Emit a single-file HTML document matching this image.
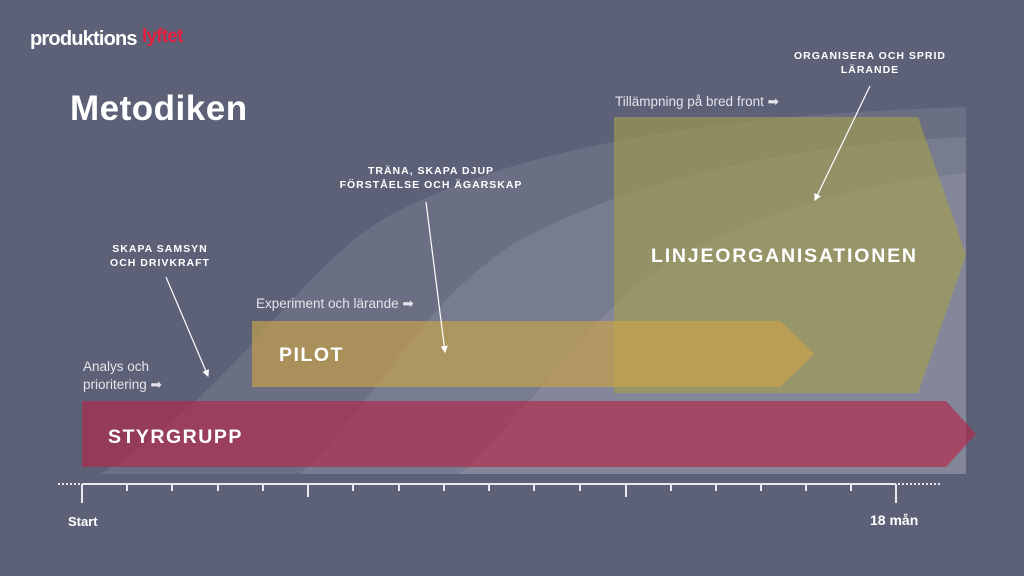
<!DOCTYPE html>
<html><head><meta charset="utf-8"><style>
body{margin:0;width:1024px;height:576px;background:#5c6178;overflow:hidden;font-family:"Liberation Sans",sans-serif;}
</style></head><body>
<svg width="1024" height="576" viewBox="0 0 1024 576" xmlns="http://www.w3.org/2000/svg" style="position:absolute;left:0;top:0">
<defs><clipPath id="c"><rect x="82" y="107" width="884" height="367"/></clipPath>
<marker id="a" markerWidth="6" markerHeight="6" refX="5" refY="3" orient="auto"><path d="M0,0 L6,3 L0,6 z" fill="#fff"/></marker></defs>
<g clip-path="url(#c)" fill="#fff">
<path d="M100,474 C250,380 300,260 400,210 C520,150 700,115 966,107 L966,474 Z" fill-opacity="0.09"/>
<path d="M300,474 C380,400 420,300 520,240 C640,175 800,145 966,137 L966,474 Z" fill-opacity="0.09"/>
<path d="M460,474 C540,400 600,300 680,255 C780,205 880,180 966,173 L966,474 Z" fill-opacity="0.09"/>
</g>
<polygon points="614,117 918,117 966,255 918,393 614,393" fill="#a7a04a" fill-opacity="0.6"/>
<polygon points="252,321 780,321 814,354 780,387 252,387" fill="#c9a24a" fill-opacity="0.68"/>
<polygon points="82,401 946,401 976,434 946,467 82,467" fill="#b3264a" fill-opacity="0.65"/>
<line x1="82" y1="484" x2="896" y2="484" stroke="#e8e8ee" stroke-width="2"/>
<line x1="58" y1="484" x2="82" y2="484" stroke="#e8e8ee" stroke-width="2" stroke-dasharray="2,2"/>
<line x1="898" y1="484" x2="940" y2="484" stroke="#e8e8ee" stroke-width="2" stroke-dasharray="2,2"/>
<g stroke="#e8e8ee" stroke-width="2">
<line x1="82" y1="484" x2="82" y2="503"/><line x1="127" y1="484" x2="127" y2="491"/><line x1="172" y1="484" x2="172" y2="491"/><line x1="218" y1="484" x2="218" y2="491"/><line x1="263" y1="484" x2="263" y2="491"/><line x1="308" y1="484" x2="308" y2="497"/><line x1="353" y1="484" x2="353" y2="491"/><line x1="399" y1="484" x2="399" y2="491"/><line x1="444" y1="484" x2="444" y2="491"/><line x1="489" y1="484" x2="489" y2="491"/><line x1="534" y1="484" x2="534" y2="491"/><line x1="580" y1="484" x2="580" y2="491"/><line x1="626" y1="484" x2="626" y2="497"/><line x1="671" y1="484" x2="671" y2="491"/><line x1="716" y1="484" x2="716" y2="491"/><line x1="761" y1="484" x2="761" y2="491"/><line x1="806" y1="484" x2="806" y2="491"/><line x1="851" y1="484" x2="851" y2="491"/><line x1="896" y1="484" x2="896" y2="503"/>
</g>
<g stroke="#fff" stroke-width="1.2" marker-end="url(#a)">
<line x1="166" y1="277" x2="208" y2="376"/>
<line x1="426" y1="202" x2="445" y2="352"/>
<line x1="870" y1="86" x2="815" y2="200"/>
</g>
<g font-family="Liberation Sans,sans-serif">
<text x="30" y="45" fill="#fff" font-size="20" font-weight="bold" letter-spacing="-0.8">produktions</text>
<text x="142" y="42" fill="#e0203f" font-size="19" font-weight="bold" letter-spacing="-0.8">lyftet</text>
<text x="70" y="120" fill="#fff" font-size="35" font-weight="bold" letter-spacing="0.5">Metodiken</text>
<g fill="#fff" font-size="10.5" font-weight="bold" letter-spacing="1" text-anchor="middle">
<text x="160" y="252">SKAPA SAMSYN</text><text x="160" y="266">OCH DRIVKRAFT</text>
<text x="431" y="174">TRÄNA, SKAPA DJUP</text><text x="431" y="188">FÖRSTÅELSE OCH ÄGARSKAP</text>
<text x="870" y="59">ORGANISERA OCH SPRID</text><text x="870" y="73">LÄRANDE</text>
</g>
<g fill="#e4e4ea" font-size="13.5">
<text x="83" y="371">Analys och</text><text x="83" y="389">prioritering ➡</text>
<text x="256" y="308">Experiment och lärande ➡</text>
<text x="615" y="106">Tillämpning på bred front ➡</text>
</g>
<g fill="#fff" font-weight="bold" letter-spacing="1.5">
<text x="108" y="443" font-size="19.5">STYRGRUPP</text>
<text x="279" y="361" font-size="19.5">PILOT</text>
<text x="651" y="262" font-size="19.5" letter-spacing="1.8">LINJEORGANISATIONEN</text>
</g>
<text x="68" y="526" fill="#fff" font-size="13" font-weight="bold">Start</text>
<text x="870" y="525" fill="#fff" font-size="14" font-weight="bold">18 mån</text>
</g>
</svg>
</body></html>
